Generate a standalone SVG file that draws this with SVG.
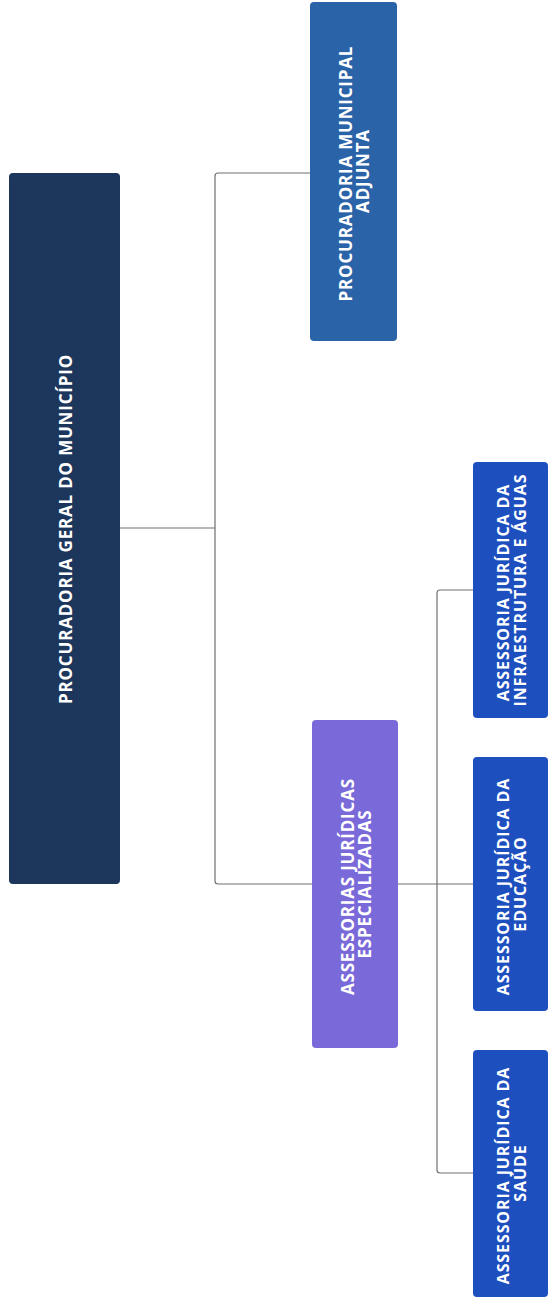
<svg xmlns="http://www.w3.org/2000/svg" width="558" height="1301" viewBox="0 0 558 1301">
  <style>
    .box { stroke: none; }
    .root { fill: #1d365c; }
    .adj { fill: #2b63a8; }
    .esp { fill: #7a69d8; }
    .sub { fill: #1d4fbf; }
    .lbl { fill: #ffffff; font-family: "Open Sans", "Liberation Sans", sans-serif; font-weight: 700; text-anchor: middle; dominant-baseline: central; }
    .big { font-size: 17px; letter-spacing: 0.8px; }
    .small { font-size: 16px; letter-spacing: 0.9px; }
    .link { fill: none; stroke: #707070; stroke-width: 1.2; }
  </style>

  <!-- connectors -->
  <g id="connectors">
    <path class="link" d="M120,528 H215"/>
    <path class="link" d="M310,173 H218 Q215,173 215,176 V881 Q215,884 218,884 H312"/>
    <path class="link" d="M398,884 H437"/>
    <path class="link" d="M473,590 H440 Q437,590 437,593 V1170 Q437,1173 440,1173 H473"/>
    <path class="link" d="M437,884 H473"/>
  </g>

  <!-- top level -->
  <g id="procuradoria-geral">
    <rect class="box root" x="9" y="173" width="111" height="711" rx="4"/>
    <text class="lbl big" transform="translate(65,529) rotate(-90)">PROCURADORIA GERAL DO MUNICÍPIO</text>
  </g>

  <!-- second level -->
  <g id="procuradoria-adjunta">
    <rect class="box adj" x="310" y="2" width="87" height="339" rx="4"/>
    <text class="lbl big" transform="translate(353.5,171) rotate(-90)">
      <tspan x="0" y="-8.5">PROCURADORIA MUNICIPAL</tspan>
      <tspan x="0" y="8.5">ADJUNTA</tspan>
    </text>
  </g>

  <g id="assessorias-especializadas">
    <rect class="box esp" x="312" y="720" width="86" height="328" rx="4"/>
    <text class="lbl big" transform="translate(355,884) rotate(-90)">
      <tspan x="0" y="-8.5">ASSESSORIAS JURÍDICAS</tspan>
      <tspan x="0" y="8.5">ESPECIALIZADAS</tspan>
    </text>
  </g>

  <!-- third level -->
  <g id="assessoria-infraestrutura">
    <rect class="box sub" x="473" y="462" width="75" height="256" rx="4"/>
    <text class="lbl small" transform="translate(511,590) rotate(-90)">
      <tspan x="0" y="-8.5">ASSESSORIA JURÍDICA DA</tspan>
      <tspan x="0" y="8.5">INFRAESTRUTURA E ÁGUAS</tspan>
    </text>
  </g>

  <g id="assessoria-educacao">
    <rect class="box sub" x="473" y="757" width="75" height="254" rx="4"/>
    <text class="lbl small" transform="translate(511,884) rotate(-90)">
      <tspan x="0" y="-8.5">ASSESSORIA JURÍDICA DA</tspan>
      <tspan x="0" y="8.5">EDUCAÇÃO</tspan>
    </text>
  </g>

  <g id="assessoria-saude">
    <rect class="box sub" x="473" y="1050" width="75" height="247" rx="4"/>
    <text class="lbl small" transform="translate(511,1173) rotate(-90)">
      <tspan x="0" y="-8.5">ASSESSORIA JURÍDICA DA</tspan>
      <tspan x="0" y="8.5">SAÚDE</tspan>
    </text>
  </g>
</svg>
